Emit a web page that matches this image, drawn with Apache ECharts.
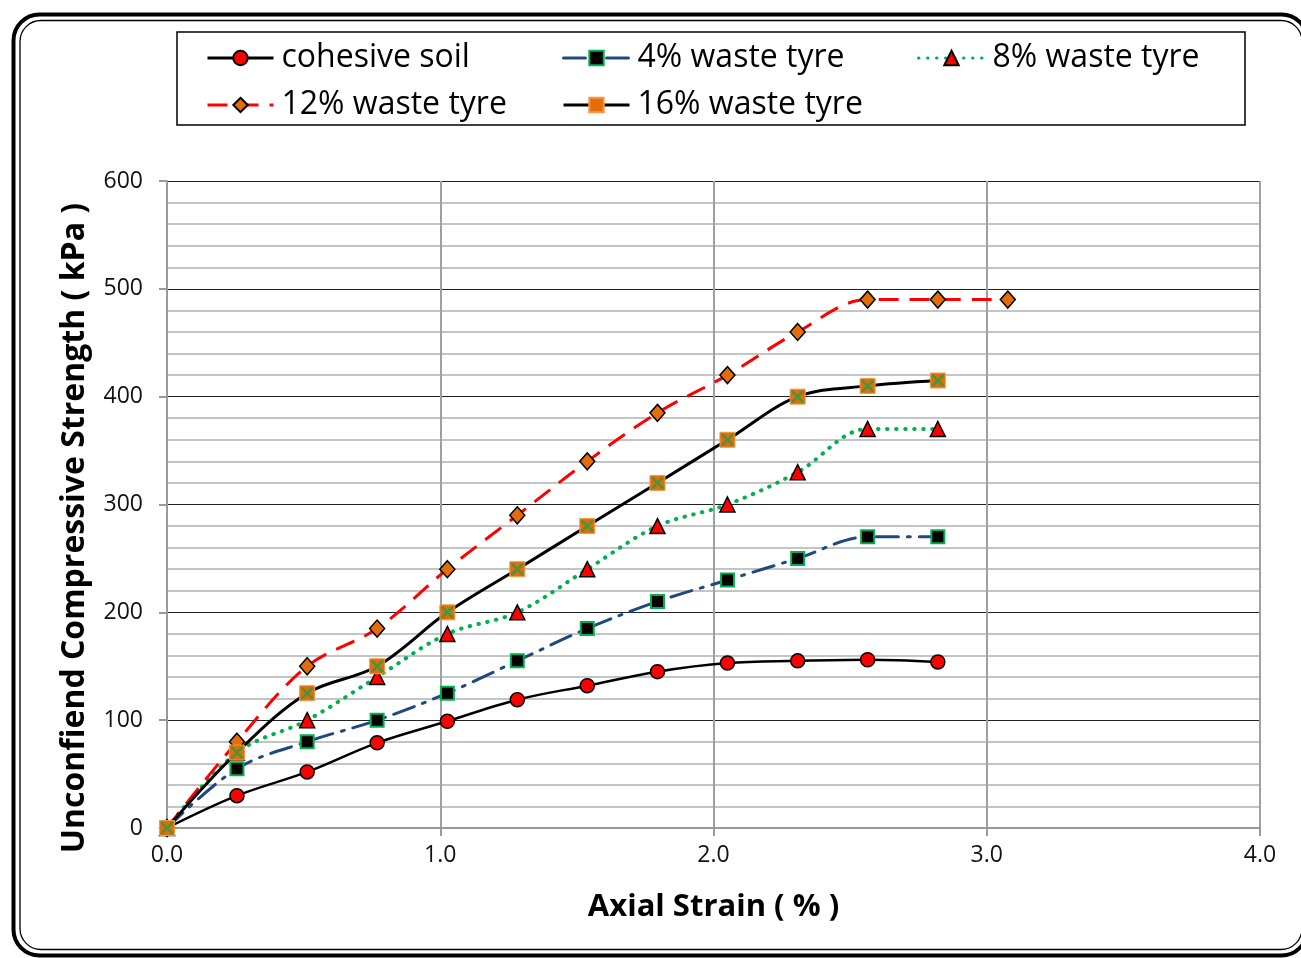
<!DOCTYPE html>
<html>
<head>
<meta charset="utf-8">
<script src="https://cdn.jsdelivr.net/npm/echarts@6/dist/echarts.min.js"></script>
<style>
html,body{margin:0;padding:0;background:#fff;}
#chart{width:1301px;height:958px;}
</style>
</head>
<body>
<div id="chart"></div>
<script>
// ---- data ----
const strain = [0, 0.256, 0.513, 0.769, 1.026, 1.282, 1.538, 1.795, 2.051, 2.308, 2.564, 2.821, 3.077];
const seriesNames = ['cohesive soil', '4% waste tyre', '8% waste tyre', '12% waste tyre', '16% waste tyre'];
const cohesiveSoil = [0, 30, 52, 79, 99, 119, 132, 145, 153, 155, 156, 154];
const tyre4 = [0, 55, 80, 100, 125, 155, 185, 210, 230, 250, 270, 270];
const tyre8 = [0, 70, 100, 140, 180, 200, 240, 280, 300, 330, 370, 370];
const tyre12 = [0, 80, 150, 185, 240, 290, 340, 385, 420, 460, 490, 490, 490];
const tyre16 = [0, 70, 125, 150, 200, 240, 280, 320, 360, 400, 410, 415];
const yTicks = [0, 100, 200, 300, 400, 500, 600];
const xTicks = [0, 1, 2, 3, 4];

const pair = vals => vals.map((v, i) => [strain[i], v]);
const FONT = '"Open Sans", "Noto Sans", sans-serif';

const chart = echarts.init(document.getElementById('chart'), null, {renderer: 'canvas'});

function legendAt(name, left, top) {
  return {
    data: [name], left: left, top: top, orient: 'horizontal',
    itemWidth: 66, itemHeight: 18, padding: 0, selectedMode: false,
    lineStyle: {width: 3},
    textStyle: {fontFamily: FONT, fontSize: 32, color: '#000', padding: [0, 0, 0, 3]}
  };
}

const option = {
  animation: false,
  backgroundColor: '#fff',
  grid: {left: 167, right: 41, top: 181, bottom: 130, containLabel: false},
  legend: [
    legendAt(seriesNames[0], 206, 42),
    legendAt(seriesNames[1], 562, 42),
    legendAt(seriesNames[2], 917, 42),
    legendAt(seriesNames[3], 206, 89),
    legendAt(seriesNames[4], 562, 89)
  ],
  xAxis: {
    type: 'value', min: xTicks[0], max: xTicks[xTicks.length - 1], interval: 1,
    axisLine: {show: true, onZero: false, lineStyle: {color: '#999', width: 2}},
    axisTick: {show: true, inside: false, length: 8, lineStyle: {color: '#999', width: 2}},
    axisLabel: {fontFamily: FONT, fontSize: 23, color: '#111', margin: 16,
      formatter: v => v.toFixed(1)},
    splitLine: {show: true, lineStyle: {color: '#a0a0a0', width: 2}},
    name: 'Axial Strain ( % )', nameLocation: 'middle', nameGap: 64,
    nameTextStyle: {fontFamily: FONT, fontSize: 31, fontWeight: 'bold', color: '#000'}
  },
  yAxis: {
    type: 'value', min: yTicks[0], max: yTicks[yTicks.length - 1], interval: 100,
    axisLine: {show: true, onZero: false, lineStyle: {color: '#999', width: 2}},
    axisTick: {show: true, inside: false, length: 8, lineStyle: {color: '#999', width: 2}},
    axisLabel: {fontFamily: FONT, fontSize: 23, color: '#111', margin: 24},
    splitLine: {show: true, lineStyle: {color: '#222', width: 1.2}},
    minorTick: {show: false, splitNumber: 5},
    minorSplitLine: {show: true, lineStyle: {color: '#c4c4c4', width: 2}}
  },
  graphic: [
    {type: 'rect', z: 100, silent: true,
      shape: {x: 13.5, y: 14.5, width: 1294, height: 941, r: 26},
      style: {fill: 'none', stroke: '#000', lineWidth: 4}},
    {type: 'rect', z: 100, silent: true,
      shape: {x: 20, y: 20.5, width: 1282, height: 929, r: 21},
      style: {fill: 'none', stroke: '#000', lineWidth: 1.3}},
    {type: 'rect', z: 100, silent: true,
      shape: {x: 177, y: 32, width: 1068, height: 93},
      style: {fill: 'none', stroke: '#000', lineWidth: 1.5}},
    {type: 'text', z: 100, silent: true, x: 75, y: 528, rotation: Math.PI / 2,
      style: {text: 'Unconfiend Compressive Strength ( kPa )', fontFamily: FONT, fontSize: 32,
        fontWeight: 'bold', fill: '#000', align: 'center', verticalAlign: 'middle'}}
  ],
  series: [
    {name: seriesNames[0], type: 'line', data: pair(cohesiveSoil), smooth: 0.35,
      symbol: 'circle', symbolSize: 14, showAllSymbol: true,
      lineStyle: {color: '#000', width: 2.5, type: 'solid'},
      itemStyle: {color: '#ff0000', borderColor: '#000', borderWidth: 1.5}},
    {name: seriesNames[1], type: 'line', data: pair(tyre4), smooth: 0.35,
      symbol: 'rect', symbolSize: 13, showAllSymbol: true,
      lineStyle: {color: '#1f497d', width: 3, type: [22, 9, 3, 9], cap: 'round'},
      itemStyle: {color: '#000', borderColor: '#00b050', borderWidth: 2}},
    {name: seriesNames[2], type: 'line', data: pair(tyre8), smooth: 0.35,
      symbol: 'triangle', symbolSize: 15, showAllSymbol: true,
      lineStyle: {color: '#00b050', width: 4, type: [0.5, 8.5], cap: 'round'},
      itemStyle: {color: '#ff0000', borderColor: '#000', borderWidth: 1.5}},
    {name: seriesNames[3], type: 'line', data: pair(tyre12), smooth: 0.35,
      symbol: 'diamond', symbolSize: [15, 17], showAllSymbol: true,
      lineStyle: {color: '#ff0000', width: 3, type: [20, 11]},
      itemStyle: {color: '#e46c0a', borderColor: '#000', borderWidth: 1.5}},
    {name: seriesNames[4], type: 'line', data: pair(tyre16), smooth: 0.35,
      symbol: 'rect', symbolSize: 15, showAllSymbol: true,
      lineStyle: {color: '#000', width: 3, type: 'solid'},
      itemStyle: {color: '#e46c0a', borderColor: '#f29a4a', borderWidth: 1}},
    {name: seriesNames[4] + ' x', type: 'scatter', data: pair(tyre16), z: 3,
      symbol: 'path://M0,0 L3,0 L10,7 L17,0 L20,0 L20,3 L13,10 L20,17 L20,20 L17,20 L10,13 L3,20 L0,20 L0,17 L7,10 L0,3 Z',
      symbolSize: 12, itemStyle: {color: '#1aa34a'}, silent: true}
  ]
};
chart.setOption(option);
</script>
</body>
</html>
